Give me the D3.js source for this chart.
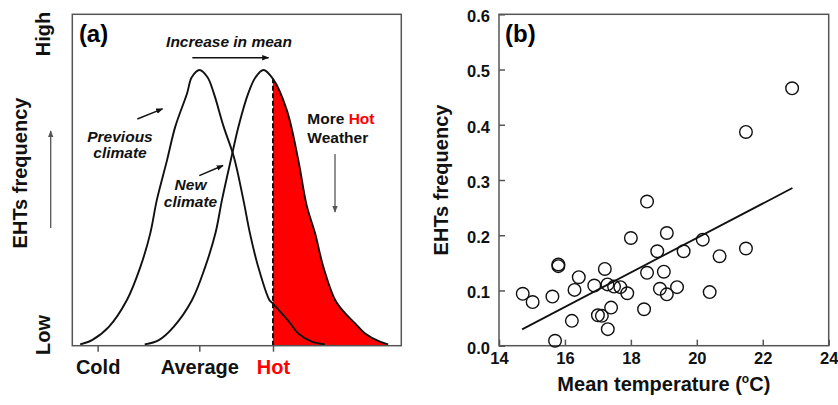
<!DOCTYPE html>
<html>
<head>
<meta charset="utf-8">
<script src="https://cdn.jsdelivr.net/npm/d3@7"></script>
<style>
  body { margin: 0; background: #fff; }
  svg { display: block; font-family: "Liberation Sans", Arial, sans-serif; }
  .tickA text { font-size: 20px; font-weight: bold; fill: #111; }
  .tickB text { font-size: 16.5px; font-weight: bold; fill: #111; }
  .tickA line, .tickB line { stroke: #555; stroke-width: 1.5px; }
</style>
</head>
<body>
<svg id="chart" width="838" height="405"></svg>
<script>
// ---- panel (a) : schematic climate distributions (arbitrary units 0-100)
var tempLabels = ['Cold', 'Average', 'Hot'];
var tempTicks = [7.7, 38.6, 61];
var prevClimate = [[2.4, 0.4], [6.0, 1.7], [11.1, 5.7], [16.6, 13.8], [20.7, 23.8], [23.7, 33.9],
  [25.7, 44.0], [28.8, 56.0], [31.3, 66.1], [34.9, 76.2], [36.3, 81.0], [38.7, 83.2], [41.1, 81.0],
  [43.0, 76.2], [46.0, 66.1], [49.1, 57.0], [52.0, 44.0], [54.0, 33.9], [56.5, 23.8], [59.9, 13.8],
  [60.9, 12.8], [63.6, 9.8], [66.2, 6.8], [68.7, 3.7], [72.8, 1.2], [76.8, 0.4]];
var newClimate = [[22.0, 0.4], [26.3, 1.7], [30.8, 5.7], [36.4, 13.8], [40.4, 23.8], [43.5, 33.9],
  [45.5, 44.0], [48.4, 57.0], [50.5, 66.1], [53.5, 76.2], [55.7, 81.0], [58.1, 83.2], [61.0, 80.5],
  [65.2, 71.1], [68.7, 56.0], [71.2, 42.5], [73.8, 33.9], [76.3, 23.8], [79.9, 13.8], [82.9, 9.8],
  [85.9, 6.8], [89.0, 3.7], [93.5, 1.2], [96.0, 0.4]];

// ---- panel (b) : EHTs frequency vs mean temperature
var meanTemp = [14.72, 15.02, 15.62, 15.70, 15.80, 15.80, 16.21, 16.29, 16.42, 16.89, 17.00, 17.12,
  17.21, 17.30, 17.29, 17.40, 17.49, 17.68, 17.89, 18.00, 18.40, 18.49, 18.49, 18.80, 18.88, 19.00,
  19.09, 19.09, 19.40, 19.60, 20.18, 20.39, 20.69, 21.49, 21.49, 22.89];
var ehtFreq = [0.094, 0.079, 0.089, 0.009, 0.147, 0.144, 0.045, 0.101, 0.124, 0.109, 0.055, 0.054,
  0.139, 0.030, 0.111, 0.069, 0.107, 0.106, 0.095, 0.195, 0.066, 0.261, 0.132, 0.171, 0.103, 0.134,
  0.204, 0.093, 0.106, 0.171, 0.192, 0.097, 0.162, 0.176, 0.387, 0.466];
var fitIntercept = -0.429;
var fitSlope = 0.0312;
var fitRange = [14.7, 22.9];
var xTicksB = [14, 16, 18, 20, 22, 24];
var yTicksB = [0, 0.1, 0.2, 0.3, 0.4, 0.5, 0.6];

var svg = d3.select('#chart');

// arrow heads
var defs = svg.append('defs');
function arrowMarker(id, col) {
  defs.append('marker')
    .attr('id', id)
    .attr('viewBox', '0 0 10 10')
    .attr('refX', 9).attr('refY', 5)
    .attr('markerWidth', 7).attr('markerHeight', 7)
    .attr('markerUnits', 'userSpaceOnUse')
    .attr('orient', 'auto')
    .append('path')
    .attr('d', 'M0,1 L10,5 L0,9 Z')
    .attr('fill', col);
}
arrowMarker('arrBlack', '#111');
arrowMarker('arrGray', '#555');

// ======================= panel (a) =======================
var xA = d3.scaleLinear([0, 100], [72.3, 401.3]);
var yA = d3.scaleLinear([0, 100], [345.7, 14.3]);
var gA = svg.append('g');

var smooth = d3.curveCatmullRom.alpha(0.5);
var curveLine = d3.line()
  .x(function(d) { return xA(d[0]); })
  .y(function(d) { return yA(d[1]); })
  .curve(smooth);
var curveArea = d3.area()
  .x(function(d) { return xA(d[0]); })
  .y0(yA(0))
  .y1(function(d) { return yA(d[1]); })
  .curve(smooth);

// clip for the hot tail and for the dashed line
defs.append('clipPath').attr('id', 'hotClip')
  .append('rect')
  .attr('x', xA(tempTicks[2])).attr('y', yA(100))
  .attr('width', xA(100) - xA(tempTicks[2])).attr('height', yA(0) - yA(100));
defs.append('clipPath').attr('id', 'underNew')
  .append('path').attr('d', curveArea(newClimate));

gA.append('path')
  .attr('d', curveArea(newClimate))
  .attr('clip-path', 'url(#hotClip)')
  .style('fill', '#ff0000');

gA.append('path').attr('d', curveLine(prevClimate))
  .style('fill', 'none').style('stroke', '#111').style('stroke-width', 1.9);
gA.append('path').attr('d', curveLine(newClimate))
  .style('fill', 'none').style('stroke', '#111').style('stroke-width', 1.9);

gA.append('line')
  .attr('x1', xA(tempTicks[2])).attr('x2', xA(tempTicks[2]))
  .attr('y1', yA(0)).attr('y2', yA(100))
  .attr('clip-path', 'url(#underNew)')
  .style('stroke', '#111').style('stroke-width', 2)
  .style('stroke-dasharray', '5,2.5');

var axA = gA.append('g').attr('class', 'tickA')
  .attr('transform', 'translate(0,' + yA(0) + ')')
  .call(d3.axisBottom(xA).tickValues(tempTicks)
    .tickFormat(function(d, i) { return tempLabels[i]; })
    .tickSize(6).tickPadding(8));
axA.select('.domain').remove();
axA.selectAll('text').filter(function(d, i) { return i == 2; }).style('fill', '#ff0000');

gA.append('rect')
  .attr('x', xA(0)).attr('y', yA(100))
  .attr('width', xA(100) - xA(0)).attr('height', yA(0) - yA(100))
  .style('fill', 'none').style('stroke', '#555').style('stroke-width', 1.5);

gA.append('text').attr('x', xA(2)).attr('y', 42)
  .style('font-size', '24px').style('font-weight', 'bold').text('(a)');

// left side labels
function vText(x, y, str) {
  return svg.append('text')
    .attr('transform', 'translate(' + x + ',' + y + ') rotate(-90)')
    .attr('text-anchor', 'middle')
    .style('font-size', '20px').style('font-weight', 'bold').style('fill', '#111')
    .text(str);
}
vText(49.5, 34, 'High');
vText(49.5, 335, 'Low');
vText(26.5, 173, 'EHTs frequency');
svg.append('line')
  .attr('x1', 50.7).attr('x2', 50.7).attr('y1', 228).attr('y2', 131)
  .attr('marker-end', 'url(#arrGray)')
  .style('stroke', '#555').style('stroke-width', 1.3);

// annotations
function note(x, y, lines, italic) {
  var t = gA.append('text')
    .attr('x', x).attr('y', y)
    .attr('text-anchor', 'middle')
    .style('font-size', '15.5px').style('font-weight', 'bold')
    .style('font-style', italic ? 'italic' : 'normal').style('fill', '#111');
  lines.forEach(function(l, i) {
    t.append('tspan').attr('x', x).attr('dy', i == 0 ? 0 : 16.8).text(l);
  });
  return t;
}
note(229, 46.5, ['Increase in mean'], true);
gA.append('line').attr('x1', 192.3).attr('x2', 268.5).attr('y1', 57.7).attr('y2', 57.7)
  .attr('marker-end', 'url(#arrBlack)').style('stroke', '#111').style('stroke-width', 1.4);

note(120, 141.5, ['Previous', 'climate'], true);
gA.append('line').attr('x1', 137.3).attr('y1', 119).attr('x2', 162.5).attr('y2', 108.8)
  .attr('marker-end', 'url(#arrBlack)').style('stroke', '#111').style('stroke-width', 1.4);

note(190.5, 190, ['New', 'climate'], true);
gA.append('line').attr('x1', 199.3).attr('y1', 175.7).attr('x2', 223).attr('y2', 165.5)
  .attr('marker-end', 'url(#arrBlack)').style('stroke', '#111').style('stroke-width', 1.4);

var more = gA.append('text').attr('x', 307.3).attr('y', 124.3)
  .style('font-size', '15.5px').style('font-weight', 'bold').style('fill', '#111');
more.append('tspan').text('More ');
more.append('tspan').style('fill', '#ff0000').text('Hot');
gA.append('text').attr('x', 307.3).attr('y', 142.5)
  .style('font-size', '15.5px').style('font-weight', 'bold').style('fill', '#111').text('Weather');
gA.append('line').attr('x1', 335).attr('x2', 335).attr('y1', 154).attr('y2', 212)
  .attr('marker-end', 'url(#arrGray)').style('stroke', '#555').style('stroke-width', 1.3);

// ======================= panel (b) =======================
var xB = d3.scaleLinear([14, 24], [499, 828.7]);
var yB = d3.scaleLinear([0, 0.6], [345.7, 14.3]);
var gB = svg.append('g');

var axBx = gB.append('g').attr('class', 'tickB')
  .attr('transform', 'translate(0,' + yB(0) + ')')
  .call(d3.axisBottom(xB).tickValues(xTicksB).tickFormat(d3.format('d'))
    .tickSizeInner(-6).tickSizeOuter(0).tickPadding(7));
axBx.select('.domain').remove();
var axBy = gB.append('g').attr('class', 'tickB')
  .attr('transform', 'translate(' + xB(14) + ',0)')
  .call(d3.axisLeft(yB).tickValues(yTicksB).tickFormat(d3.format('.1f'))
    .tickSizeInner(-6).tickSizeOuter(0).tickPadding(9));
axBy.select('.domain').remove();
axBy.selectAll('text').attr('dy', '0.45em');

gB.append('rect')
  .attr('x', xB(14)).attr('y', yB(0.6))
  .attr('width', xB(24) - xB(14)).attr('height', yB(0) - yB(0.6))
  .style('fill', 'none').style('stroke', '#555').style('stroke-width', 1.5);

gB.append('line')
  .attr('x1', xB(fitRange[0])).attr('y1', yB(fitIntercept + fitSlope * fitRange[0]))
  .attr('x2', xB(fitRange[1])).attr('y2', yB(fitIntercept + fitSlope * fitRange[1]))
  .style('stroke', '#111').style('stroke-width', 1.8);

gB.selectAll('circle.pt')
  .data(meanTemp)
  .enter().append('circle')
  .attr('class', 'pt')
  .attr('cx', function(d) { return xB(d); })
  .attr('cy', function(d, i) { return yB(ehtFreq[i]); })
  .attr('r', 6.3)
  .style('fill', 'none').style('stroke', '#111').style('stroke-width', 1.4);

gB.append('text').attr('x', 505).attr('y', 42)
  .style('font-size', '24px').style('font-weight', 'bold').text('(b)');

svg.append('text')
  .attr('transform', 'translate(447.5,180) rotate(-90)')
  .attr('text-anchor', 'middle')
  .style('font-size', '20px').style('font-weight', 'bold').style('fill', '#111')
  .text('EHTs frequency');

var xt = svg.append('text')
  .attr('x', xB(19)).attr('y', 391)
  .attr('text-anchor', 'middle')
  .style('font-size', '20px').style('font-weight', 'bold').style('fill', '#111');
xt.append('tspan').text('Mean temperature (');
xt.append('tspan').attr('dy', -8).style('font-size', '12px').text('o');
xt.append('tspan').attr('dy', 8).text('C)');
</script>
</body>
</html>
